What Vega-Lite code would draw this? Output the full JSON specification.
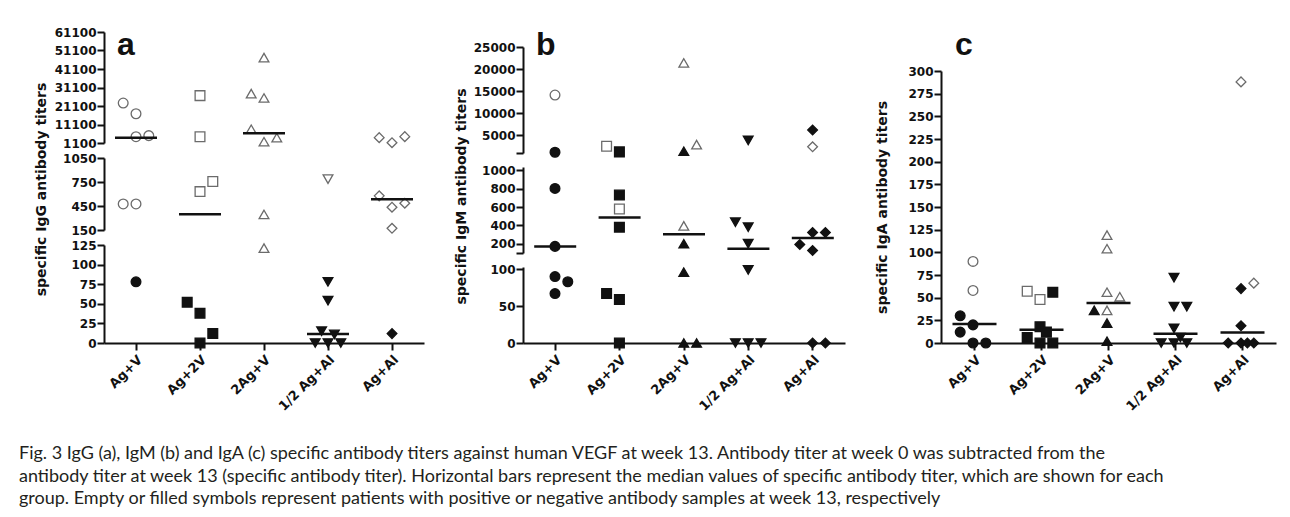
{
  "$schema": "https://vega.github.io/schema/vega-lite/v6.json",
  "background": "white",
  "padding": {"left": 18, "top": 26, "right": 5, "bottom": 5},
  "datasets": {
    "d": [
      {"ig":"IgG","grp":"Ag+V","v":22700,"s":"pos","j":-1},
      {"ig":"IgG","grp":"Ag+V","v":16900,"s":"pos","j":0},
      {"ig":"IgG","grp":"Ag+V","v":4530,"s":"pos","j":0},
      {"ig":"IgG","grp":"Ag+V","v":5080,"s":"pos","j":1},
      {"ig":"IgG","grp":"Ag+V","v":476,"s":"pos","j":-1},
      {"ig":"IgG","grp":"Ag+V","v":476,"s":"pos","j":0},
      {"ig":"IgG","grp":"Ag+V","v":78,"s":"neg","j":0},
      {"ig":"IgG","grp":"Ag+2V","v":26700,"s":"pos","j":0},
      {"ig":"IgG","grp":"Ag+2V","v":4530,"s":"pos","j":0},
      {"ig":"IgG","grp":"Ag+2V","v":630,"s":"pos","j":0},
      {"ig":"IgG","grp":"Ag+2V","v":756,"s":"pos","j":1},
      {"ig":"IgG","grp":"Ag+2V","v":52,"s":"neg","j":-1},
      {"ig":"IgG","grp":"Ag+2V","v":38,"s":"neg","j":0},
      {"ig":"IgG","grp":"Ag+2V","v":12,"s":"neg","j":1},
      {"ig":"IgG","grp":"Ag+2V","v":0,"s":"neg","j":0},
      {"ig":"IgG","grp":"2Ag+V","v":47260,"s":"pos","j":0},
      {"ig":"IgG","grp":"2Ag+V","v":27800,"s":"pos","j":-1},
      {"ig":"IgG","grp":"2Ag+V","v":25450,"s":"pos","j":0},
      {"ig":"IgG","grp":"2Ag+V","v":8560,"s":"pos","j":-1},
      {"ig":"IgG","grp":"2Ag+V","v":1800,"s":"pos","j":0},
      {"ig":"IgG","grp":"2Ag+V","v":3990,"s":"pos","j":1},
      {"ig":"IgG","grp":"2Ag+V","v":345,"s":"pos","j":0},
      {"ig":"IgG","grp":"2Ag+V","v":121,"s":"pos","j":0},
      {"ig":"IgG","grp":"1/2 Ag+Al","v":786,"s":"pos","j":0},
      {"ig":"IgG","grp":"1/2 Ag+Al","v":78,"s":"neg","j":0},
      {"ig":"IgG","grp":"1/2 Ag+Al","v":54,"s":"neg","j":0},
      {"ig":"IgG","grp":"1/2 Ag+Al","v":15,"s":"neg","j":-0.5},
      {"ig":"IgG","grp":"1/2 Ag+Al","v":11,"s":"neg","j":0.5},
      {"ig":"IgG","grp":"1/2 Ag+Al","v":0,"s":"neg","j":-1},
      {"ig":"IgG","grp":"1/2 Ag+Al","v":0,"s":"neg","j":0},
      {"ig":"IgG","grp":"1/2 Ag+Al","v":0,"s":"neg","j":1},
      {"ig":"IgG","grp":"Ag+Al","v":3990,"s":"pos","j":-1},
      {"ig":"IgG","grp":"Ag+Al","v":1260,"s":"pos","j":0},
      {"ig":"IgG","grp":"Ag+Al","v":4530,"s":"pos","j":1},
      {"ig":"IgG","grp":"Ag+Al","v":577,"s":"pos","j":-1},
      {"ig":"IgG","grp":"Ag+Al","v":435,"s":"pos","j":0},
      {"ig":"IgG","grp":"Ag+Al","v":485,"s":"pos","j":1},
      {"ig":"IgG","grp":"Ag+Al","v":171,"s":"pos","j":0},
      {"ig":"IgG","grp":"Ag+Al","v":12,"s":"neg","j":0},
      {"ig":"IgG","grp":"Ag+V","v":4000,"s":"med"},
      {"ig":"IgG","grp":"Ag+2V","v":347,"s":"med"},
      {"ig":"IgG","grp":"2Ag+V","v":6370,"s":"med"},
      {"ig":"IgG","grp":"1/2 Ag+Al","v":11.6,"s":"med"},
      {"ig":"IgG","grp":"Ag+Al","v":535,"s":"med"},

      {"ig":"IgM","grp":"Ag+V","v":14110,"s":"pos","j":0},
      {"ig":"IgM","grp":"Ag+V","v":1165,"s":"neg","j":0},
      {"ig":"IgM","grp":"Ag+V","v":802,"s":"neg","j":0},
      {"ig":"IgM","grp":"Ag+V","v":172,"s":"neg","j":0},
      {"ig":"IgM","grp":"Ag+V","v":90,"s":"neg","j":0},
      {"ig":"IgM","grp":"Ag+V","v":83,"s":"neg","j":1},
      {"ig":"IgM","grp":"Ag+V","v":67,"s":"neg","j":0},
      {"ig":"IgM","grp":"Ag+2V","v":2530,"s":"pos","j":-1},
      {"ig":"IgM","grp":"Ag+2V","v":1260,"s":"neg","j":0},
      {"ig":"IgM","grp":"Ag+2V","v":730,"s":"neg","j":0},
      {"ig":"IgM","grp":"Ag+2V","v":579,"s":"pos","j":0},
      {"ig":"IgM","grp":"Ag+2V","v":381,"s":"neg","j":0},
      {"ig":"IgM","grp":"Ag+2V","v":67,"s":"neg","j":-1},
      {"ig":"IgM","grp":"Ag+2V","v":59,"s":"neg","j":0},
      {"ig":"IgM","grp":"Ag+2V","v":0,"s":"neg","j":0},
      {"ig":"IgM","grp":"2Ag+V","v":21400,"s":"pos","j":0},
      {"ig":"IgM","grp":"2Ag+V","v":2900,"s":"pos","j":1},
      {"ig":"IgM","grp":"2Ag+V","v":1400,"s":"neg","j":0},
      {"ig":"IgM","grp":"2Ag+V","v":395,"s":"pos","j":0},
      {"ig":"IgM","grp":"2Ag+V","v":201,"s":"neg","j":0},
      {"ig":"IgM","grp":"2Ag+V","v":96,"s":"neg","j":0},
      {"ig":"IgM","grp":"2Ag+V","v":0,"s":"neg","j":0},
      {"ig":"IgM","grp":"2Ag+V","v":0,"s":"neg","j":1},
      {"ig":"IgM","grp":"1/2 Ag+Al","v":3840,"s":"neg","j":0},
      {"ig":"IgM","grp":"1/2 Ag+Al","v":435,"s":"neg","j":-1},
      {"ig":"IgM","grp":"1/2 Ag+Al","v":381,"s":"neg","j":0},
      {"ig":"IgM","grp":"1/2 Ag+Al","v":201,"s":"neg","j":0},
      {"ig":"IgM","grp":"1/2 Ag+Al","v":99,"s":"neg","j":0},
      {"ig":"IgM","grp":"1/2 Ag+Al","v":0,"s":"neg","j":-1},
      {"ig":"IgM","grp":"1/2 Ag+Al","v":0,"s":"neg","j":0},
      {"ig":"IgM","grp":"1/2 Ag+Al","v":0,"s":"neg","j":1},
      {"ig":"IgM","grp":"Ag+Al","v":6190,"s":"neg","j":0},
      {"ig":"IgM","grp":"Ag+Al","v":2400,"s":"pos","j":0},
      {"ig":"IgM","grp":"Ag+Al","v":193,"s":"neg","j":-1},
      {"ig":"IgM","grp":"Ag+Al","v":323,"s":"neg","j":0},
      {"ig":"IgM","grp":"Ag+Al","v":323,"s":"neg","j":1},
      {"ig":"IgM","grp":"Ag+Al","v":128,"s":"neg","j":0},
      {"ig":"IgM","grp":"Ag+Al","v":0,"s":"neg","j":0},
      {"ig":"IgM","grp":"Ag+Al","v":0,"s":"neg","j":1},
      {"ig":"IgM","grp":"Ag+V","v":172,"s":"med"},
      {"ig":"IgM","grp":"Ag+2V","v":485,"s":"med"},
      {"ig":"IgM","grp":"2Ag+V","v":305,"s":"med"},
      {"ig":"IgM","grp":"1/2 Ag+Al","v":147,"s":"med"},
      {"ig":"IgM","grp":"Ag+Al","v":262,"s":"med"},

      {"ig":"IgA","grp":"Ag+V","v":90,"s":"pos","j":0},
      {"ig":"IgA","grp":"Ag+V","v":58,"s":"pos","j":0},
      {"ig":"IgA","grp":"Ag+V","v":30,"s":"neg","j":-1},
      {"ig":"IgA","grp":"Ag+V","v":12,"s":"neg","j":-1},
      {"ig":"IgA","grp":"Ag+V","v":20,"s":"neg","j":0},
      {"ig":"IgA","grp":"Ag+V","v":0,"s":"neg","j":0},
      {"ig":"IgA","grp":"Ag+V","v":0,"s":"neg","j":1},
      {"ig":"IgA","grp":"Ag+2V","v":57,"s":"pos","j":-1},
      {"ig":"IgA","grp":"Ag+2V","v":48,"s":"pos","j":0},
      {"ig":"IgA","grp":"Ag+2V","v":56,"s":"neg","j":1},
      {"ig":"IgA","grp":"Ag+2V","v":18,"s":"neg","j":0},
      {"ig":"IgA","grp":"Ag+2V","v":12,"s":"neg","j":0.5},
      {"ig":"IgA","grp":"Ag+2V","v":6,"s":"neg","j":-1},
      {"ig":"IgA","grp":"Ag+2V","v":0,"s":"neg","j":0},
      {"ig":"IgA","grp":"Ag+2V","v":0,"s":"neg","j":1},
      {"ig":"IgA","grp":"2Ag+V","v":119,"s":"pos","j":0},
      {"ig":"IgA","grp":"2Ag+V","v":104,"s":"pos","j":0},
      {"ig":"IgA","grp":"2Ag+V","v":56,"s":"pos","j":0},
      {"ig":"IgA","grp":"2Ag+V","v":51,"s":"pos","j":1},
      {"ig":"IgA","grp":"2Ag+V","v":36,"s":"pos","j":0},
      {"ig":"IgA","grp":"2Ag+V","v":36,"s":"neg","j":-1},
      {"ig":"IgA","grp":"2Ag+V","v":22,"s":"neg","j":0},
      {"ig":"IgA","grp":"2Ag+V","v":2,"s":"neg","j":0},
      {"ig":"IgA","grp":"1/2 Ag+Al","v":72,"s":"neg","j":0},
      {"ig":"IgA","grp":"1/2 Ag+Al","v":40,"s":"neg","j":0},
      {"ig":"IgA","grp":"1/2 Ag+Al","v":40,"s":"neg","j":1},
      {"ig":"IgA","grp":"1/2 Ag+Al","v":16,"s":"neg","j":0},
      {"ig":"IgA","grp":"1/2 Ag+Al","v":6,"s":"neg","j":0.5},
      {"ig":"IgA","grp":"1/2 Ag+Al","v":0,"s":"neg","j":-1},
      {"ig":"IgA","grp":"1/2 Ag+Al","v":0,"s":"neg","j":0},
      {"ig":"IgA","grp":"1/2 Ag+Al","v":0,"s":"neg","j":1},
      {"ig":"IgA","grp":"Ag+Al","v":288,"s":"pos","j":0},
      {"ig":"IgA","grp":"Ag+Al","v":66,"s":"pos","j":1},
      {"ig":"IgA","grp":"Ag+Al","v":60,"s":"neg","j":0},
      {"ig":"IgA","grp":"Ag+Al","v":19,"s":"neg","j":0},
      {"ig":"IgA","grp":"Ag+Al","v":0,"s":"neg","j":-1},
      {"ig":"IgA","grp":"Ag+Al","v":0,"s":"neg","j":0},
      {"ig":"IgA","grp":"Ag+Al","v":0,"s":"neg","j":0.5},
      {"ig":"IgA","grp":"Ag+Al","v":0,"s":"neg","j":1},
      {"ig":"IgA","grp":"Ag+V","v":21,"s":"med"},
      {"ig":"IgA","grp":"Ag+2V","v":14.7,"s":"med"},
      {"ig":"IgA","grp":"2Ag+V","v":44,"s":"med"},
      {"ig":"IgA","grp":"1/2 Ag+Al","v":10.2,"s":"med"},
      {"ig":"IgA","grp":"Ag+Al","v":11.7,"s":"med"}
    ]
  },
  "title": {
    "text": [
      "Fig. 3 IgG (a), IgM (b) and IgA (c) specific antibody titers against human VEGF at week 13. Antibody titer at week 0 was subtracted from the",
      "antibody titer at week 13 (specific antibody titer). Horizontal bars represent the median values of specific antibody titer, which are shown for each",
      "group. Empty or filled symbols represent patients with positive or negative antibody samples at week 13, respectively"
    ],
    "orient": "bottom",
    "anchor": "start",
    "frame": "bounds",
    "font": "Lato, sans-serif",
    "fontSize": 18,
    "fontWeight": "normal",
    "color": "#231f20",
    "lineHeight": 22.5,
    "offset": 32,
    "dx": -15
  },
  "spacing": 29,
  "hconcat": [
    {
      "spacing": 15,
      "bounds": "flush",
      "vconcat": [
        {
          "width": 320, "height": 111,
          "title": {"text": "a", "orient": "top", "anchor": "start", "frame": "group", "baseline": "alphabetic", "font": "Liberation Sans", "fontWeight": "bold", "fontSize": 32, "color": "#111111", "offset": -61, "dx": 13},
          "data": {"name": "d"},
          "encoding": {
            "x": {"field": "grp", "type": "nominal", "scale": {"domain": ["Ag+V","Ag+2V","2Ag+V","1/2 Ag+Al","Ag+Al"], "paddingInner": 0, "paddingOuter": 0}, "axis": null},
            "y": {"field": "v", "type": "quantitative", "scale": {"domain": [1100, 61100], "nice": false, "zero": false}, "axis": {"values": [1100,11100,21100,31100,41100,51100,61100], "format": "d", "title": null}}
          },
          "layer": [
            {"transform": [{"filter": "datum.ig == 'IgG' && datum.v >= 1100 && datum.s != 'med'"}], "mark": {"type": "point", "filled": true, "opacity": 1, "size": 95, "strokeWidth": 1.3},
             "encoding": {
               "xOffset": {"field": "j", "type": "quantitative", "scale": {"domain": [-2.5, 2.5], "range": [0, 64]}},
               "shape": {"field": "grp", "type": "nominal", "scale": {"domain": ["Ag+V","Ag+2V","2Ag+V","1/2 Ag+Al","Ag+Al"], "range": ["circle","square","triangle-up","triangle-down","diamond"]}, "legend": null},
               "fill": {"field": "s", "type": "nominal", "scale": {"domain": ["pos","neg"], "range": ["#ffffff","#111111"]}, "legend": null},
               "stroke": {"field": "s", "type": "nominal", "scale": {"domain": ["pos","neg"], "range": ["#6b6b6b","#111111"]}, "legend": null}
             }},
            {"transform": [{"filter": "datum.ig == 'IgG' && datum.v >= 1100 && datum.s == 'med'"}], "mark": {"type": "tick", "color": "#111111", "opacity": 1, "thickness": 2.5, "size": 42}}
          ]
        },
        {
          "width": 320, "height": 72,
          "data": {"name": "d"},
          "encoding": {
            "x": {"field": "grp", "type": "nominal", "scale": {"domain": ["Ag+V","Ag+2V","2Ag+V","1/2 Ag+Al","Ag+Al"], "paddingInner": 0, "paddingOuter": 0}, "axis": null},
            "y": {"field": "v", "type": "quantitative", "scale": {"domain": [150, 1050], "nice": false, "zero": false}, "axis": {"values": [150,450,750,1050], "format": "d", "title": "specific IgG antibody titers", "titleX": -56, "titleY": 31}}
          },
          "layer": [
            {"transform": [{"filter": "datum.ig == 'IgG' && datum.v >= 150 && datum.v < 1100 && datum.s != 'med'"}], "mark": {"type": "point", "filled": true, "opacity": 1, "size": 95, "strokeWidth": 1.3},
             "encoding": {
               "xOffset": {"field": "j", "type": "quantitative", "scale": {"domain": [-2.5, 2.5], "range": [0, 64]}},
               "shape": {"field": "grp", "type": "nominal", "scale": {"domain": ["Ag+V","Ag+2V","2Ag+V","1/2 Ag+Al","Ag+Al"], "range": ["circle","square","triangle-up","triangle-down","diamond"]}, "legend": null},
               "fill": {"field": "s", "type": "nominal", "scale": {"domain": ["pos","neg"], "range": ["#ffffff","#111111"]}, "legend": null},
               "stroke": {"field": "s", "type": "nominal", "scale": {"domain": ["pos","neg"], "range": ["#6b6b6b","#111111"]}, "legend": null}
             }},
            {"transform": [{"filter": "datum.ig == 'IgG' && datum.v >= 150 && datum.v < 1100 && datum.s == 'med'"}], "mark": {"type": "tick", "color": "#111111", "opacity": 1, "thickness": 2.5, "size": 42}}
          ]
        },
        {
          "width": 320, "height": 98,
          "data": {"name": "d"},
          "encoding": {
            "x": {"field": "grp", "type": "nominal", "scale": {"domain": ["Ag+V","Ag+2V","2Ag+V","1/2 Ag+Al","Ag+Al"], "paddingInner": 0, "paddingOuter": 0}, "axis": {"title": null, "labelAngle": -45, "labelFontSize": 13, "labelPadding": 3}},
            "y": {"field": "v", "type": "quantitative", "scale": {"domain": [0, 125], "nice": false, "zero": false}, "axis": {"values": [0,25,50,75,100,125], "format": "d", "title": null}}
          },
          "layer": [
            {"transform": [{"filter": "datum.ig == 'IgG' && datum.v < 150 && datum.s != 'med'"}], "mark": {"type": "point", "filled": true, "opacity": 1, "size": 95, "strokeWidth": 1.3},
             "encoding": {
               "xOffset": {"field": "j", "type": "quantitative", "scale": {"domain": [-2.5, 2.5], "range": [0, 64]}},
               "shape": {"field": "grp", "type": "nominal", "scale": {"domain": ["Ag+V","Ag+2V","2Ag+V","1/2 Ag+Al","Ag+Al"], "range": ["circle","square","triangle-up","triangle-down","diamond"]}, "legend": null},
               "fill": {"field": "s", "type": "nominal", "scale": {"domain": ["pos","neg"], "range": ["#ffffff","#111111"]}, "legend": null},
               "stroke": {"field": "s", "type": "nominal", "scale": {"domain": ["pos","neg"], "range": ["#6b6b6b","#111111"]}, "legend": null}
             }},
            {"transform": [{"filter": "datum.ig == 'IgG' && datum.v < 150 && datum.s == 'med'"}], "mark": {"type": "tick", "color": "#111111", "opacity": 1, "thickness": 2.5, "size": 42}}
          ]
        }
      ]
    },
    {
      "spacing": 14,
      "bounds": "flush",
      "vconcat": [
        {
          "width": 322, "height": 1,
          "data": {"values": []},
          "mark": {"type": "point", "opacity": 0},
          "encoding": {}
        },
        {
          "width": 322, "height": 106,
          "title": {"text": "b", "orient": "top", "anchor": "start", "frame": "group", "baseline": "alphabetic", "font": "Liberation Sans", "fontWeight": "bold", "fontSize": 32, "color": "#111111", "offset": -46, "dx": 13},
          "data": {"name": "d"},
          "encoding": {
            "x": {"field": "grp", "type": "nominal", "scale": {"domain": ["Ag+V","Ag+2V","2Ag+V","1/2 Ag+Al","Ag+Al"], "paddingInner": 0, "paddingOuter": 0}, "axis": null},
            "y": {"field": "v", "type": "quantitative", "scale": {"domain": [1000, 25000], "nice": false, "zero": false}, "axis": {"values": [1000,5000,10000,15000,20000,25000], "labelExpr": "datum.value == 1000 ? '' : datum.label", "format": "d", "title": null}}
          },
          "layer": [
            {"transform": [{"filter": "datum.ig == 'IgM' && datum.v >= 1000 && datum.s != 'med'"}], "mark": {"type": "point", "filled": true, "opacity": 1, "size": 95, "strokeWidth": 1.3},
             "encoding": {
               "xOffset": {"field": "j", "type": "quantitative", "scale": {"domain": [-2.5, 2.5], "range": [0, 64.4]}},
               "shape": {"field": "grp", "type": "nominal", "scale": {"domain": ["Ag+V","Ag+2V","2Ag+V","1/2 Ag+Al","Ag+Al"], "range": ["circle","square","triangle-up","triangle-down","diamond"]}, "legend": null},
               "fill": {"field": "s", "type": "nominal", "scale": {"domain": ["pos","neg"], "range": ["#ffffff","#111111"]}, "legend": null},
               "stroke": {"field": "s", "type": "nominal", "scale": {"domain": ["pos","neg"], "range": ["#6b6b6b","#111111"]}, "legend": null}
             }},
            {"transform": [{"filter": "datum.ig == 'IgM' && datum.v >= 1000 && datum.s == 'med'"}], "mark": {"type": "tick", "color": "#111111", "opacity": 1, "thickness": 2.5, "size": 42}}
          ]
        },
        {
          "width": 322, "height": 86,
          "data": {"name": "d"},
          "encoding": {
            "x": {"field": "grp", "type": "nominal", "scale": {"domain": ["Ag+V","Ag+2V","2Ag+V","1/2 Ag+Al","Ag+Al"], "paddingInner": 0, "paddingOuter": 0}, "axis": null},
            "y": {"field": "v", "type": "quantitative", "scale": {"domain": [100, 1035], "nice": false, "zero": false}, "axis": {"values": [100,200,400,600,800,1000], "labelExpr": "datum.value == 100 ? '' : datum.label", "format": "d", "title": "specific IgM antibody titers", "titleX": -55, "titleY": 29}}
          },
          "layer": [
            {"transform": [{"filter": "datum.ig == 'IgM' && datum.v >= 100 && datum.v < 1000 && datum.s != 'med'"}], "mark": {"type": "point", "filled": true, "opacity": 1, "size": 95, "strokeWidth": 1.3},
             "encoding": {
               "xOffset": {"field": "j", "type": "quantitative", "scale": {"domain": [-2.5, 2.5], "range": [0, 64.4]}},
               "shape": {"field": "grp", "type": "nominal", "scale": {"domain": ["Ag+V","Ag+2V","2Ag+V","1/2 Ag+Al","Ag+Al"], "range": ["circle","square","triangle-up","triangle-down","diamond"]}, "legend": null},
               "fill": {"field": "s", "type": "nominal", "scale": {"domain": ["pos","neg"], "range": ["#ffffff","#111111"]}, "legend": null},
               "stroke": {"field": "s", "type": "nominal", "scale": {"domain": ["pos","neg"], "range": ["#6b6b6b","#111111"]}, "legend": null}
             }},
            {"transform": [{"filter": "datum.ig == 'IgM' && datum.v >= 100 && datum.v < 1000 && datum.s == 'med'"}], "mark": {"type": "tick", "color": "#111111", "opacity": 1, "thickness": 2.5, "size": 42}}
          ]
        },
        {
          "width": 322, "height": 76,
          "data": {"name": "d"},
          "encoding": {
            "x": {"field": "grp", "type": "nominal", "scale": {"domain": ["Ag+V","Ag+2V","2Ag+V","1/2 Ag+Al","Ag+Al"], "paddingInner": 0, "paddingOuter": 0}, "axis": {"title": null, "labelAngle": -45, "labelFontSize": 13, "labelPadding": 3}},
            "y": {"field": "v", "type": "quantitative", "scale": {"domain": [0, 103], "nice": false, "zero": false}, "axis": {"values": [0,50,100], "format": "d", "title": null}}
          },
          "layer": [
            {"transform": [{"filter": "datum.ig == 'IgM' && datum.v < 100 && datum.s != 'med'"}], "mark": {"type": "point", "filled": true, "opacity": 1, "size": 95, "strokeWidth": 1.3},
             "encoding": {
               "xOffset": {"field": "j", "type": "quantitative", "scale": {"domain": [-2.5, 2.5], "range": [0, 64.4]}},
               "shape": {"field": "grp", "type": "nominal", "scale": {"domain": ["Ag+V","Ag+2V","2Ag+V","1/2 Ag+Al","Ag+Al"], "range": ["circle","square","triangle-up","triangle-down","diamond"]}, "legend": null},
               "fill": {"field": "s", "type": "nominal", "scale": {"domain": ["pos","neg"], "range": ["#ffffff","#111111"]}, "legend": null},
               "stroke": {"field": "s", "type": "nominal", "scale": {"domain": ["pos","neg"], "range": ["#6b6b6b","#111111"]}, "legend": null}
             }},
            {"transform": [{"filter": "datum.ig == 'IgM' && datum.v < 100 && datum.s == 'med'"}], "mark": {"type": "tick", "color": "#111111", "opacity": 1, "thickness": 2.5, "size": 42}}
          ]
        }
      ]
    },
    {
      "spacing": 14,
      "bounds": "flush",
      "vconcat": [
        {
          "width": 335, "height": 25,
          "data": {"values": []},
          "mark": {"type": "point", "opacity": 0},
          "encoding": {}
        },
        {
          "width": 335, "height": 272,
          "title": {"text": "c", "orient": "top", "anchor": "start", "frame": "group", "baseline": "alphabetic", "font": "Liberation Sans", "fontWeight": "bold", "fontSize": 32, "color": "#111111", "offset": -22, "dx": 14},
          "data": {"name": "d"},
          "encoding": {
            "x": {"field": "grp", "type": "nominal", "scale": {"domain": ["Ag+V","Ag+2V","2Ag+V","1/2 Ag+Al","Ag+Al"], "paddingInner": 0, "paddingOuter": 0}, "axis": {"title": null, "labelAngle": -45, "labelFontSize": 13, "labelPadding": 3}},
            "y": {"field": "v", "type": "quantitative", "scale": {"domain": [0, 300], "nice": false, "zero": false}, "axis": {"values": [0,25,50,75,100,125,150,175,200,225,250,275,300], "format": "d", "title": "specific IgA antibody titers", "titleX": -52}}
          },
          "layer": [
            {"transform": [{"filter": "datum.ig == 'IgA' && datum.s != 'med'"}], "mark": {"type": "point", "filled": true, "opacity": 1, "size": 95, "strokeWidth": 1.3},
             "encoding": {
               "xOffset": {"field": "j", "type": "quantitative", "scale": {"domain": [-2.5, 2.5], "range": [0, 67]}},
               "shape": {"field": "grp", "type": "nominal", "scale": {"domain": ["Ag+V","Ag+2V","2Ag+V","1/2 Ag+Al","Ag+Al"], "range": ["circle","square","triangle-up","triangle-down","diamond"]}, "legend": null},
               "fill": {"field": "s", "type": "nominal", "scale": {"domain": ["pos","neg"], "range": ["#ffffff","#111111"]}, "legend": null},
               "stroke": {"field": "s", "type": "nominal", "scale": {"domain": ["pos","neg"], "range": ["#6b6b6b","#111111"]}, "legend": null}
             }},
            {"transform": [{"filter": "datum.ig == 'IgA' && datum.s == 'med'"}], "mark": {"type": "tick", "color": "#111111", "opacity": 1, "thickness": 2.5, "size": 44}}
          ]
        }
      ]
    }
  ],
  "config": {
    "view": {"stroke": null},
    "axis": {
      "grid": false,
      "domainColor": "#111111", "domainWidth": 2,
      "tickColor": "#111111", "tickWidth": 2, "tickSize": 7,
      "labelFont": "DejaVu Sans", "labelFontWeight": "bold", "labelFontSize": 12, "labelColor": "#111111",
      "labelPadding": 1, "labelFlush": false, "labelOverlap": false,
      "titleFont": "DejaVu Sans", "titleFontWeight": "bold", "titleFontSize": 14, "titleColor": "#111111"
    }
  }
}
